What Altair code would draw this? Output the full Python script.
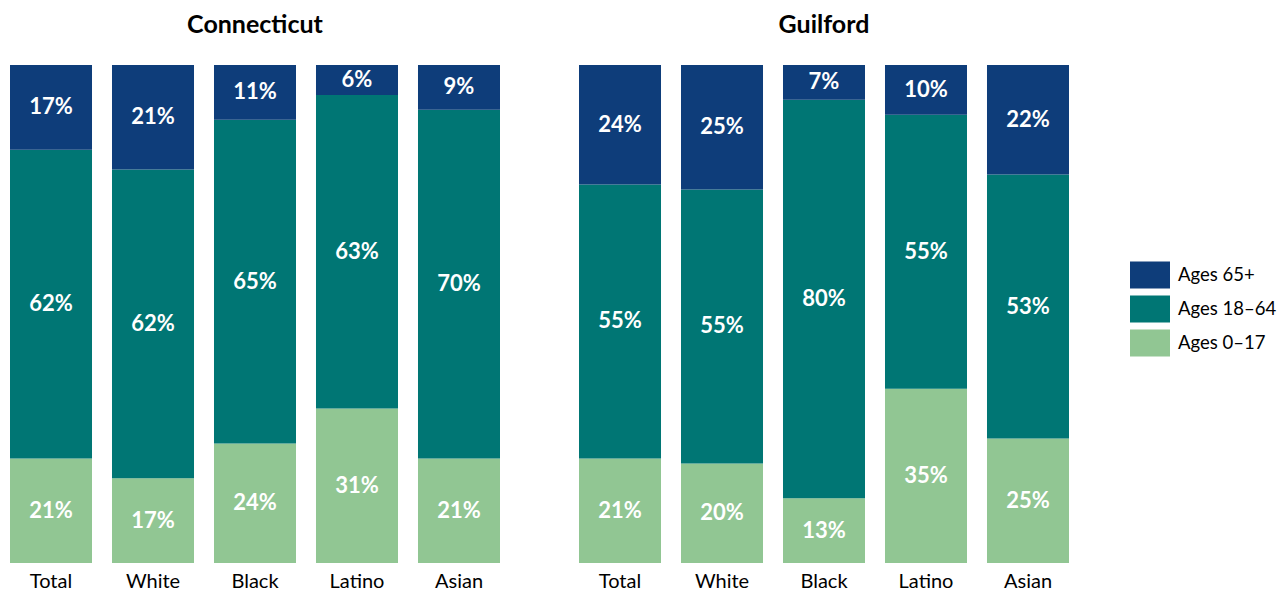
import altair as alt
import pandas as pd

races = ["Total", "White", "Black", "Latino", "Asian"]
regions = ["Connecticut", "Guilford"]
ages = ["Ages 65+", "Ages 18–64", "Ages 0–17"]
colors = ["#0E3D7A", "#007674", "#91C693"]

ct_0_17 = [21, 17, 24, 31, 21]
ct_18_64 = [62, 62, 65, 63, 70]
ct_65 = [17, 21, 11, 6, 9]

gu_0_17 = [21, 20, 13, 35, 25]
gu_18_64 = [55, 55, 80, 55, 53]
gu_65 = [24, 25, 7, 10, 22]

rows = []
for region, series in [("Connecticut", [ct_0_17, ct_18_64, ct_65]),
                       ("Guilford", [gu_0_17, gu_18_64, gu_65])]:
    for ord_, (age, vals) in enumerate(zip(["Ages 0–17", "Ages 18–64", "Ages 65+"], series)):
        for race, v in zip(races, vals):
            rows.append({"region": region, "race": race, "age": age, "ord": ord_, "value": v})
df = pd.DataFrame(rows)

FONT = "Lato"

legend = alt.Legend(
    title=None, orient="none", legendX=1120, legendY=190,
    symbolType="M-1,-0.675H1V0.675H-1Z", symbolSize=1600, symbolStrokeWidth=0,
    symbolOpacity=1, labelFontSize=18.5, labelFont=FONT, labelColor="#000",
    labelOffset=8, rowPadding=-5,
)


def panel(region):
    base = alt.Chart(df[df.region == region])
    x = alt.X("race:N", sort=races,
              scale=alt.Scale(paddingInner=0.196, paddingOuter=0),
              axis=alt.Axis(title=None, labelAngle=0, ticks=False, domain=False,
                            labelFontSize=20, labelFont=FONT, labelColor="#000",
                            labelPadding=8))
    ysc = alt.Scale(domain=[0, 100], nice=False, zero=True)
    bars = base.mark_bar().encode(
        x=x,
        y=alt.Y("value:Q", stack="zero", scale=ysc, axis=None),
        color=alt.Color("age:N", scale=alt.Scale(domain=ages, range=colors), legend=legend),
        order=alt.Order("ord:Q"),
    )
    text = base.transform_stack(
        stack="value", groupby=["race"], as_=["v0", "v1"],
        sort=[alt.SortField("ord", order="ascending")],
    ).transform_calculate(
        mid="(datum.v0 + datum.v1) / 2", label="datum.value + '%'"
    ).mark_text(color="white", fontWeight="bold", fontSize=22, font=FONT,
                baseline="middle").encode(
        x=x,
        y=alt.Y("mid:Q", scale=ysc, axis=None),
        text="label:N",
    )
    return alt.layer(bars, text).properties(
        width=490, height=498,
        title=alt.Title(region, fontSize=25, fontWeight="bold", font=FONT,
                        anchor="middle", offset=27, color="#000"),
    )


chart = alt.hconcat(panel("Connecticut"), panel("Guilford"), spacing=79).properties(
    padding={"left": 2, "top": 5, "right": 0, "bottom": 0}
).configure_view(stroke=None)

chart.save("out.html", embed_options={"renderer": "svg", "actions": False})
